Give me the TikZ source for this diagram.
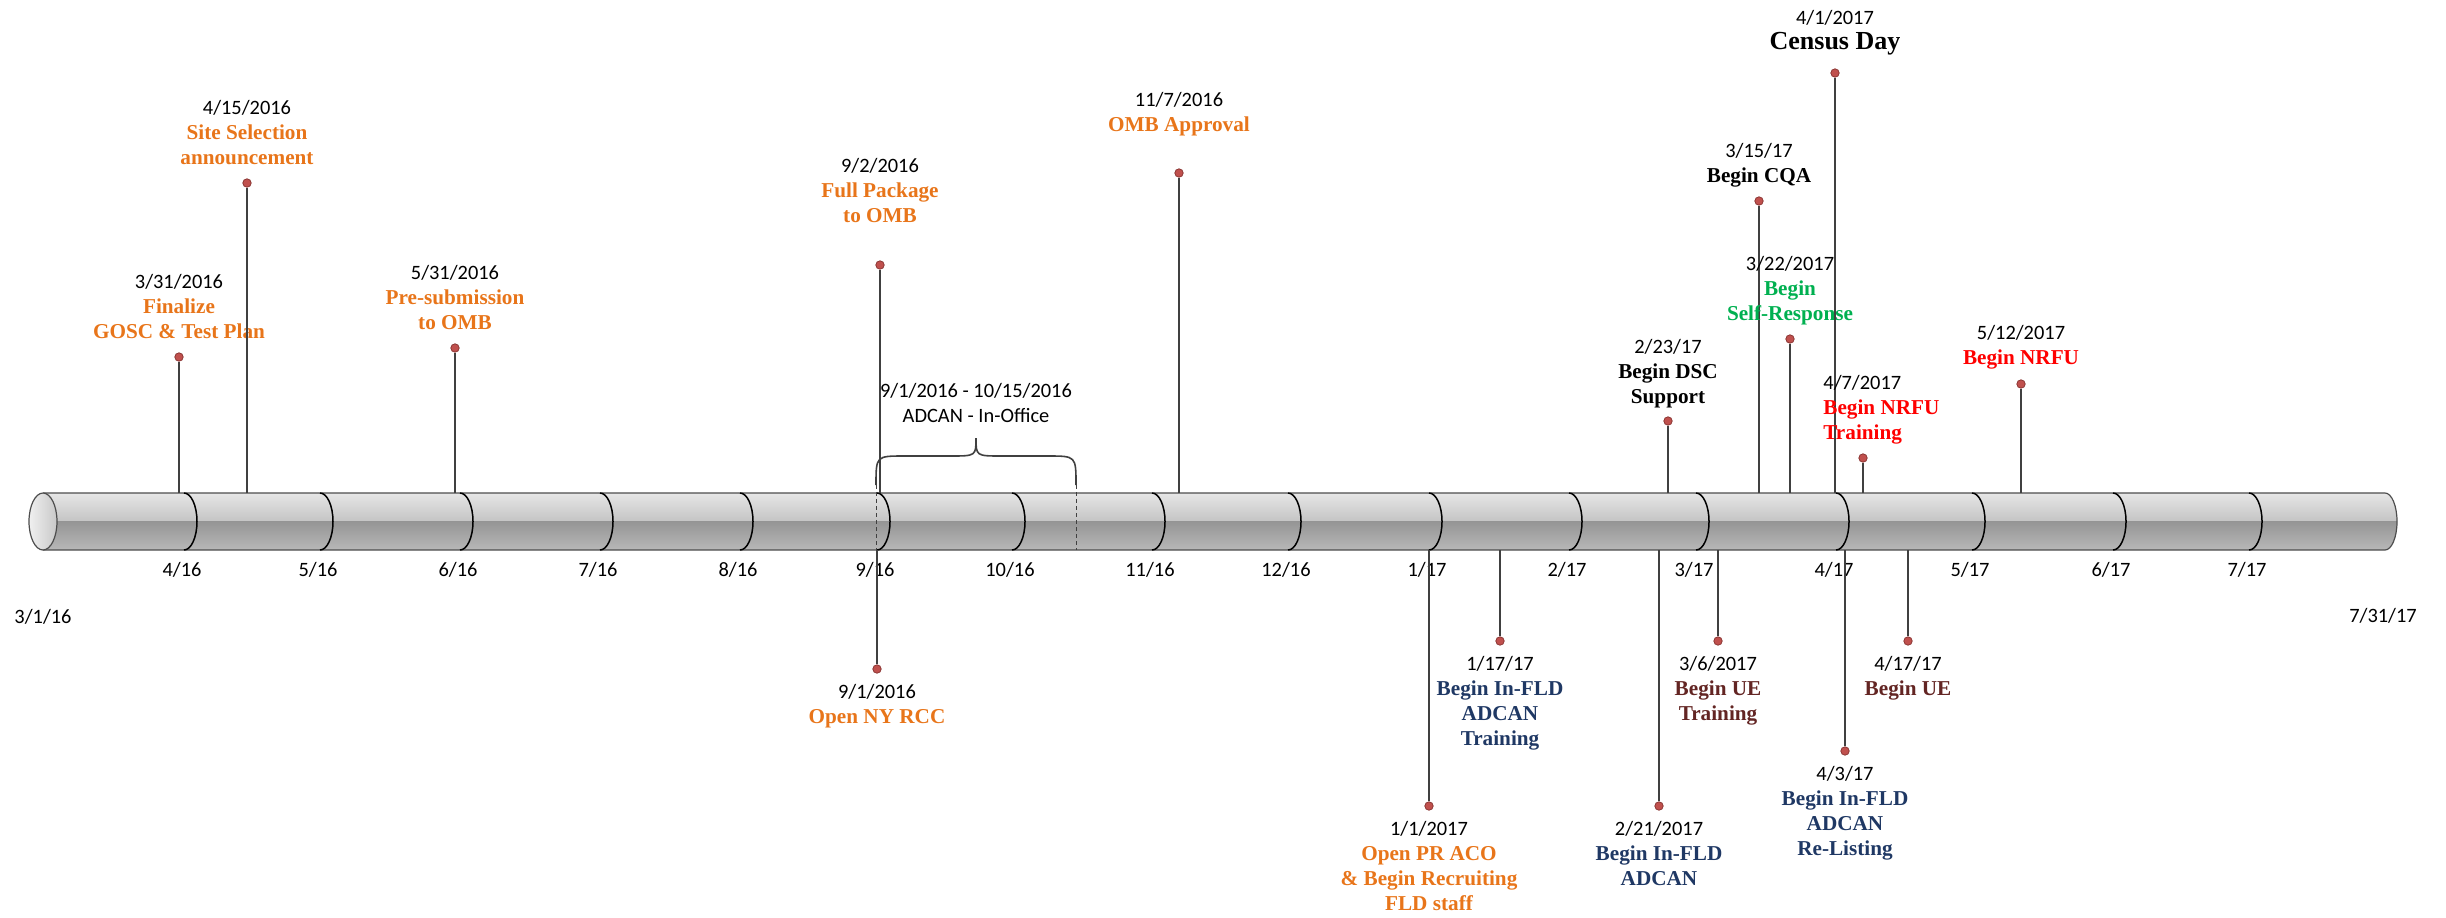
\documentclass[tikz,border=0pt]{standalone}
\usepackage{fontspec}
\setmainfont{Carlito}
\newfontfamily\evserif{Liberation Serif}
\usepackage{tikz}
\definecolor{cOrg}{HTML}{E8751A}
\definecolor{cNavy}{HTML}{1F3864}
\definecolor{cMar}{HTML}{632523}
\definecolor{cGrn}{HTML}{00B050}
\definecolor{cRed}{HTML}{FF0000}
\definecolor{cDot}{HTML}{C0504D}
\definecolor{cDotL}{HTML}{8C3836}
\definecolor{cStem}{HTML}{404040}
\definecolor{cCylA}{HTML}{E6E6E6}
\definecolor{cCylB}{HTML}{C4C4C4}
\definecolor{cCylC}{HTML}{959595}
\definecolor{cCylD}{HTML}{B8B8B8}
\definecolor{cEndA}{HTML}{F0F0F0}
\definecolor{cEndB}{HTML}{C8C8C8}
\definecolor{cCylL}{HTML}{4D4D4D}
\newcommand{\datefont}{\normalfont\fontsize{10.2}{12.5}\selectfont}
\newcommand{\ttlfont}{\evserif\bfseries\fontsize{10.6}{12.5}\selectfont}
\def\cyltop{493}
\def\cylbot{550}
\tikzset{
  evdot/.style={circle,fill=cDot,draw=cDotL,line width=0.4pt,minimum size=4.2pt,
      inner sep=0pt},
  stem/.style={draw=cStem,line width=0.6pt},
  evlab/.style={anchor=north,align=center,inner sep=0pt,font=\datefont},
  monlab/.style={anchor=base,inner sep=0pt,font=\datefont},
  mdiv/.style={draw=black,line width=0.75pt},
  cylout/.style={draw=cCylL,line width=0.6pt},
  adbrace/.style={draw=cStem,line width=0.8pt},
  dashmark/.style={draw=cStem,line width=0.5pt,dash pattern=on 2pt off 1.5pt},
}
% event above the bar: [label opts]{name}{x}{dot y}{date y}{date}{colour}{title}
\newcommand{\evup}[8][]{%
  \coordinate (#2-b) at (#3,\cyltop);
  \node[evdot] (#2-d) at (#3,#4) {};
  \draw[stem] (#2-b) -- (#2-d);
  \node[evlab,font=\ttlfont,text=#7,#1] (#2) at (#3,#5-11)
    {{\color{black}\datefont\strut#6}\\#8};}
% event below the bar
\newcommand{\evdown}[8][]{%
  \coordinate (#2-b) at (#3,\cylbot);
  \node[evdot] (#2-d) at (#3,#4) {};
  \draw[stem] (#2-b) -- (#2-d);
  \node[evlab,font=\ttlfont,text=#7,#1] (#2) at (#3,#5-11)
    {{\color{black}\datefont\strut#6}\\#8};}

\begin{document}
\begin{tikzpicture}[x=0.5pt,y=-0.5pt]
  \useasboundingbox (0,0) rectangle (2446,917);

  % the bar
  \begin{scope}
    \clip (43,\cyltop) -- (2385,\cyltop)
      arc[start angle=-90,end angle=90,x radius=12,y radius=28.5] -- (43,\cylbot) -- cycle;
    \shade[top color=cCylA,bottom color=cCylB] (30,\cyltop) rectangle (2400,521.5);
    \shade[top color=cCylC,bottom color=cCylD] (30,521.5) rectangle (2400,\cylbot);
  \end{scope}
  \draw[cylout] (43,\cyltop) -- (2385,\cyltop)
    arc[start angle=-90,end angle=90,x radius=12,y radius=28.5] -- (43,\cylbot);
  \shadedraw[left color=cEndA,right color=cEndB,cylout]
    (43,521.5) ellipse [x radius=14,y radius=28.5];

  \foreach \mx/\ml in {184/{4/16},320/{5/16},460/{6/16},600/{7/16},740/{8/16},
      877/{9/16},1012/{10/16},1152/{11/16},1288/{12/16},1429/{1/17},1569/{2/17},
      1696/{3/17},1836/{4/17},1972/{5/17},2113/{6/17},2249/{7/17}}{
    \draw[mdiv] (\mx,\cyltop) arc[start angle=-90,end angle=90,x radius=13,y radius=28.5];
    \node[monlab] (m\mx) at (\mx-2,576) {\ml};
  }
  \node[monlab] (tstart) at (43,623) {3/1/16};
  \node[monlab] (tend) at (2383,622) {7/31/17};

  % ADCAN in-office span
  \draw[dashmark] (876,485) -- (876,\cylbot);
  \draw[dashmark] (1076,485) -- (1076,\cylbot);
  \draw[adbrace] (876,485) .. controls (876,456) .. (904,456) -- (950,456)
    .. controls (976,456) .. (976,438) .. controls (976,456) .. (1002,456)
    -- (1048,456) .. controls (1076,456) .. (1076,485);
  \node[evlab] (adcan) at (976,380) {\strut 9/1/2016 - 10/15/2016\\ADCAN - In-Office};

  \evup{fin}{179}{357}{282}{3/31/2016}{cOrg}{Finalize\\GOSC \& Test Plan}
  \evup{site}{247}{183}{108}{4/15/2016}{cOrg}{Site Selection\\announcement}
  \evup{presub}{455}{348}{273}{5/31/2016}{cOrg}{Pre-submission\\to OMB}
  \evup{fullpkg}{880}{265}{166}{9/2/2016}{cOrg}{Full Package\\to OMB}
  \evup{ombok}{1179}{173}{100}{11/7/2016}{cOrg}{OMB Approval}
  \evup{dsc}{1668}{421}{347}{2/23/17}{black}{Begin DSC\\Support}
  \evup{cqa}{1759}{201}{151}{3/15/17}{black}{Begin CQA}
  \evup{selfresp}{1790}{339}{264}{3/22/2017}{cGrn}{Begin\\Self-Response}
  \evup{census}{1835}{73}{18}{4/1/2017}{black}{\fontsize{13}{14}\selectfont Census Day}
  \evup[anchor=north west,align=left,xshift=-20pt]{nrfutr}{1863}{458}{383}{4/7/2017}{cRed}
    {Begin NRFU\\Training}
  \evup{nrfu}{2021}{384}{333}{5/12/2017}{cRed}{Begin NRFU}

  \evdown{nyrcc}{877}{669}{692}{9/1/2016}{cOrg}{Open NY RCC}
  \evdown{praco}{1429}{806}{829}{1/1/2017}{cOrg}{Open PR ACO\\\& Begin Recruiting\\FLD staff}
  \evdown{inftr}{1500}{641}{664}{1/17/17}{cNavy}{Begin In-FLD\\ADCAN\\Training}
  \evdown{infld}{1659}{806}{829}{2/21/2017}{cNavy}{Begin In-FLD\\ADCAN}
  \evdown{uetr}{1718}{641}{664}{3/6/2017}{cMar}{Begin UE\\Training}
  \evdown{relist}{1845}{751}{774}{4/3/17}{cNavy}{Begin In-FLD\\ADCAN\\Re-Listing}
  \evdown{ue}{1908}{641}{664}{4/17/17}{cMar}{Begin UE}
\end{tikzpicture}
\end{document}
